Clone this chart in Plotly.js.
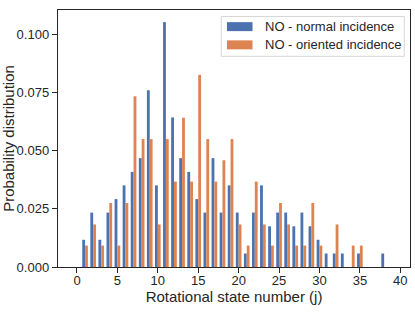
<!DOCTYPE html>
<html>
<head>
<meta charset="utf-8">
<script src="https://cdn.plot.ly/plotly-3.0.1.min.js"></script>
<style>html,body{margin:0;padding:0;background:#fff;}#chart{width:415px;height:312px;}</style>
</head>
<body>
<div id="chart"></div>
<script>
// Rotational state numbers
const jNormal = [1,2,3,4,5,6,7,8,9,10,11,12,13,14,15,16,17,18,19,20,21,22,23,24,25,26,27,28,29,30,31,32,33,35,38];
const probNormal = [0.0117,0.0234,0.0117,0.0234,0.0292,0.0351,0.0409,0.0468,0.0760,0.0351,0.1053,0.0643,0.0468,0.0409,0.0292,0.0234,0.0468,0.0234,0.0351,0.0234,0.0058,0.0234,0.0351,0.0175,0.0234,0.0234,0.0175,0.0234,0.0175,0.0117,0.0058,0.0058,0.0058,0.0058,0.0058];
const jOriented = [1,2,3,4,5,6,7,8,9,10,11,12,13,14,15,16,17,18,19,20,21,22,23,24,25,26,27,28,29,30,32,34,35];
const probOriented = [0.0092,0.0183,0.0092,0.0275,0.0092,0.0275,0.0734,0.0550,0.0550,0.0183,0.0550,0.0367,0.0642,0.0367,0.0826,0.0550,0.0367,0.0459,0.0550,0.0183,0.0092,0.0367,0.0183,0.0092,0.0275,0.0183,0.0092,0.0092,0.0275,0.0092,0.0183,0.0092,0.0092];
const seriesNames = ["NO - normal incidence", "NO - oriented incidence"];
const seriesColors = ["#4C72B0", "#DD8452"];
const xTicks = [0,5,10,15,20,25,30,35,40];
const yTicks = [0,0.025,0.05,0.075,0.1];
const yTickLabels = ["0.000","0.025","0.050","0.075","0.100"];

const font = {family: "Liberation Sans, Arial, sans-serif", color: "#262626"};
const traces = [
  {type: "bar", x: jNormal, y: probNormal, name: seriesNames[0], marker: {color: seriesColors[0], line: {width: 0}}},
  {type: "bar", x: jOriented, y: probOriented, name: seriesNames[1], marker: {color: seriesColors[1], line: {width: 0}}}
];

// legend drawn in matplotlib style (wide patches), positioned in paper coordinates
const legendShapes = [
  {type: "rect", xref: "paper", yref: "paper", x0: 0.4638, x1: 0.9838, y0: 0.8198, y1: 0.9748, line: {color: "#d6d6d6", width: 1}, fillcolor: "rgba(255,255,255,0.8)", layer: "above"},
  {type: "rect", xref: "paper", yref: "paper", x0: 0.4800, x1: 0.5526, y0: 0.9178, y1: 0.9527, line: {width: 0}, fillcolor: seriesColors[0], layer: "above"},
  {type: "rect", xref: "paper", yref: "paper", x0: 0.4800, x1: 0.5526, y0: 0.8469, y1: 0.8818, line: {width: 0}, fillcolor: seriesColors[1], layer: "above"}
];
const legendTexts = [
  {xref: "paper", yref: "paper", x: 0.5838, y: 0.9353, xanchor: "left", yanchor: "middle", text: seriesNames[0], showarrow: false, font: Object.assign({size: 13}, font)},
  {xref: "paper", yref: "paper", x: 0.5838, y: 0.8643, xanchor: "left", yanchor: "middle", text: seriesNames[1], showarrow: false, font: Object.assign({size: 13}, font)}
];

const layout = {
  width: 415, height: 312,
  margin: {l: 57.5, r: 5, t: 9.5, b: 44.5},
  paper_bgcolor: "#fff", plot_bgcolor: "#fff",
  font: Object.assign({size: 13}, font),
  barmode: "group", bargap: 0.3, bargroupgap: 0,
  showlegend: false,
  shapes: legendShapes,
  annotations: legendTexts,
  xaxis: {range: [-2.35, 41.2], tickvals: xTicks, ticktext: xTicks.map(String), ticks: "outside", ticklen: 5, tickwidth: 1, tickcolor: "#262626", ticklabelstandoff: -4, showline: true, linecolor: "#262626", linewidth: 1.25, mirror: true, showgrid: false, zeroline: false, tickfont: Object.assign({size: 13}, font), title: {text: "Rotational state number (j)", font: Object.assign({size: 15}, font), standoff: 3}, automargin: false},
  yaxis: {range: [0, 0.1105], tickvals: yTicks, ticktext: yTickLabels, ticks: "outside", ticklen: 5, tickwidth: 1, tickcolor: "#262626", showline: true, linecolor: "#262626", linewidth: 1.25, mirror: true, showgrid: false, zeroline: false, tickfont: Object.assign({size: 13}, font), title: {text: "Probability distribution", font: Object.assign({size: 15}, font), standoff: 6}, automargin: false}
};
Plotly.newPlot("chart", traces, layout, {displayModeBar: false, staticPlot: true});
</script>
</body>
</html>
